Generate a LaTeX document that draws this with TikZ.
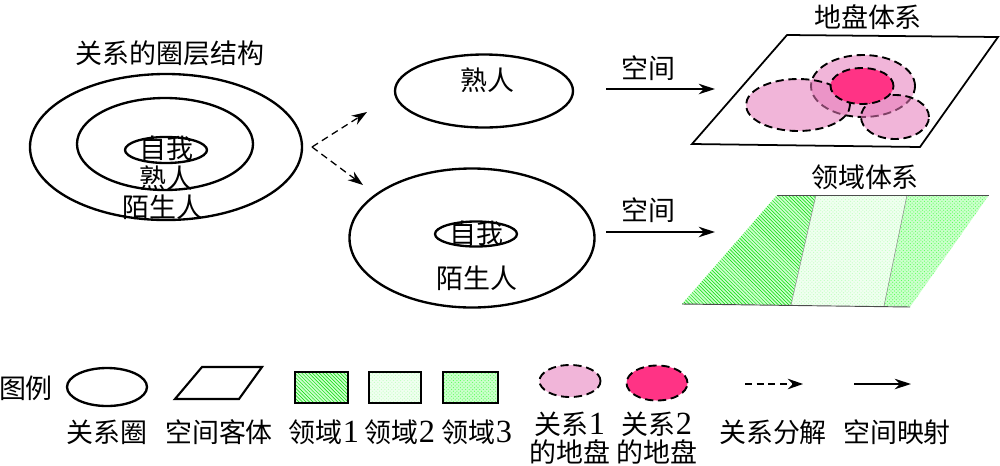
\documentclass[tikz,border=0pt]{standalone}
\usepackage{fontspec}
\setmainfont{Noto Sans CJK SC}
\newfontfamily\digit[Scale=1.2]{Liberation Serif}
\usetikzlibrary{shapes.geometric,arrows.meta,patterns}

\definecolor{pinkland}{RGB}{230,120,185}
\definecolor{redland}{RGB}{255,51,133}

\tikzset{
  txt/.style={font=\fontsize{23}{24}\selectfont, inner sep=0pt, align=center},
  ring/.style={draw, ellipse, line width=2pt, inner sep=0pt},
  land/.style={draw, ellipse, dash pattern=on 7pt off 4pt, line width=1.6pt, inner sep=0pt},
  split/.style={-{Stealth[length=13pt,width=9pt]}, dash pattern=on 6pt off 4pt, line width=1.1pt},
  mapto/.style={-{Stealth[length=14pt,width=9pt]}, line width=1.2pt},
}

\begin{document}
\begin{tikzpicture}[x=0.03cm,y=-0.03cm]
  \useasboundingbox (0,0) rectangle (1000,465);

  % circle structure of relations
  \node[txt] (title) at (170,53) {关系的圈层结构};
  \node[ring, minimum width=8.16cm, minimum height=4.38cm] (outer) at (166,147) {};
  \node[ring, minimum width=5.28cm, minimum height=2.76cm] (middle) at (165,144) {};
  \node[ring, minimum width=2.46cm, minimum height=0.78cm] (inner) at (166,150) {};
  \node[txt] (me) at (166,148) {自我};
  \node[txt] (kin) at (166,178) {熟人};
  \node[txt] (stranger) at (163,207) {陌生人};

  % decomposition
  \coordinate (fork) at (312,147);
  \coordinate (forkup) at (367,112);
  \coordinate (forkdown) at (363,185);
  \draw[split] (fork) -- (forkup);
  \draw[split] (fork) -- (forkdown);

  \node[ring, minimum width=5.34cm, minimum height=2.19cm] (kinring) at (484,91) {};
  \node[txt] (kinB) at (487,80) {熟人};
  \node[ring, minimum width=7.35cm, minimum height=4.17cm] (strangerring) at (472,238) {};
  \node[ring, minimum width=2.46cm, minimum height=0.75cm] (innerB) at (476,234) {};
  \node[txt] (meB) at (476,233) {自我};
  \node[txt] (strangerB) at (477,278) {陌生人};

  % spatial mapping
  \coordinate (mapA) at (606,89);
  \coordinate (mapAend) at (715,89);
  \draw[mapto] (mapA) -- (mapAend);
  \node[txt] (spaceA) at (648,68) {空间};
  \coordinate (mapB) at (606,232);
  \coordinate (mapBend) at (715,232);
  \draw[mapto] (mapB) -- (mapBend);
  \node[txt] (spaceB) at (648,210) {空间};

  % territory system
  \node[txt] (turf) at (868,17) {地盘体系};
  \draw[line width=1.5pt] (787,35) -- (998,37) -- (920,147) -- (692,144) -- cycle;
  \node[land, fill=pinkland, fill opacity=0.55, text opacity=1, minimum width=3.12cm, minimum height=1.86cm] (turfM) at (863,86) {};
  \node[land, fill=pinkland, fill opacity=0.55, text opacity=1, minimum width=3.12cm, minimum height=1.56cm] (turfA) at (798,105) {};
  \node[land, fill=pinkland, fill opacity=0.55, text opacity=1, minimum width=2.04cm, minimum height=1.32cm] (turfC) at (895,117) {};
  \node[land, fill=redland, minimum width=1.89cm, minimum height=1.08cm] (turfCore) at (862,86) {};

  % domain system
  \node[txt] (domain) at (865,177) {领域体系};
  \fill[green!20] (777,195) -- (816,195) -- (791,305) -- (682,304) -- cycle;
  \fill[pattern=north west lines, pattern color=green!85!black] (777,195) -- (816,195) -- (791,305) -- (682,304) -- cycle;
  \fill[green!6] (816,195) -- (907,195) -- (884,306) -- (791,305) -- cycle;
  \fill[pattern=crosshatch dots, pattern color=green!25] (816,195) -- (907,195) -- (884,306) -- (791,305) -- cycle;
  \fill[green!20] (907,195) -- (989,195) -- (910,307) -- (884,306) -- cycle;
  \fill[pattern=crosshatch dots, pattern color=green!65] (907,195) -- (989,195) -- (910,307) -- (884,306) -- cycle;
  \draw[gray, thin] (816,195) -- (791,305);
  \draw[gray, thin] (907,195) -- (884,306);
  \draw[black!70, line width=0.8pt] (777,195) -- (989,195);
  \draw[black!70, line width=0.8pt] (682,304) -- (910,307);

  % legend
  \node[txt] (legend) at (26,388) {图例};
  \node[ring, minimum width=2.4cm, minimum height=1.14cm] (keyring) at (107,387) {};
  \draw[line width=1.8pt] (202,367) -- (262,367) -- (239,399) -- (175,399) -- cycle;
  \fill[green!20] (295,372) rectangle (348,403);
  \fill[pattern=north west lines, pattern color=green!85!black] (295,372) rectangle (348,403);
  \draw[line width=1.5pt] (295,372) rectangle (348,403);
  \fill[green!6] (369,372) rectangle (421,403);
  \fill[pattern=crosshatch dots, pattern color=green!25] (369,372) rectangle (421,403);
  \draw[line width=1.5pt] (369,372) rectangle (421,403);
  \fill[green!20] (443,372) rectangle (498,403);
  \fill[pattern=crosshatch dots, pattern color=green!65] (443,372) rectangle (498,403);
  \draw[line width=1.5pt] (443,372) rectangle (498,403);
  \node[land, fill=pinkland, fill opacity=0.55, text opacity=1, minimum width=1.83cm, minimum height=0.96cm] (keyturf) at (570,381) {};
  \node[land, fill=redland, minimum width=1.83cm, minimum height=1.05cm] (keycore) at (657,383) {};
  \coordinate (keysplit) at (745,384);
  \coordinate (keysplitend) at (803,384);
  \draw[split] (keysplit) -- (keysplitend);
  \coordinate (keymap) at (854,384);
  \coordinate (keymapend) at (911,384);
  \draw[mapto] (keymap) -- (keymapend);

  \node[txt] (keyringtxt) at (107,432) {关系圈};
  \node[txt] (keyspace) at (219,432) {空间客体};
  \node[txt] (keydomA) at (324,432) {领域{\digit 1}};
  \node[txt] (keydomB) at (400,432) {领域{\digit 2}};
  \node[txt] (keydomC) at (477,432) {领域{\digit 3}};
  \node[txt] (keyturftxt) at (570,438) {关系{\digit 1}\\的地盘};
  \node[txt] (keycoretxt) at (657,438) {关系{\digit 2}\\的地盘};
  \node[txt] (keysplittxt) at (773,432) {关系分解};
  \node[txt] (keymaptxt) at (897,432) {空间映射};
\end{tikzpicture}
\end{document}
